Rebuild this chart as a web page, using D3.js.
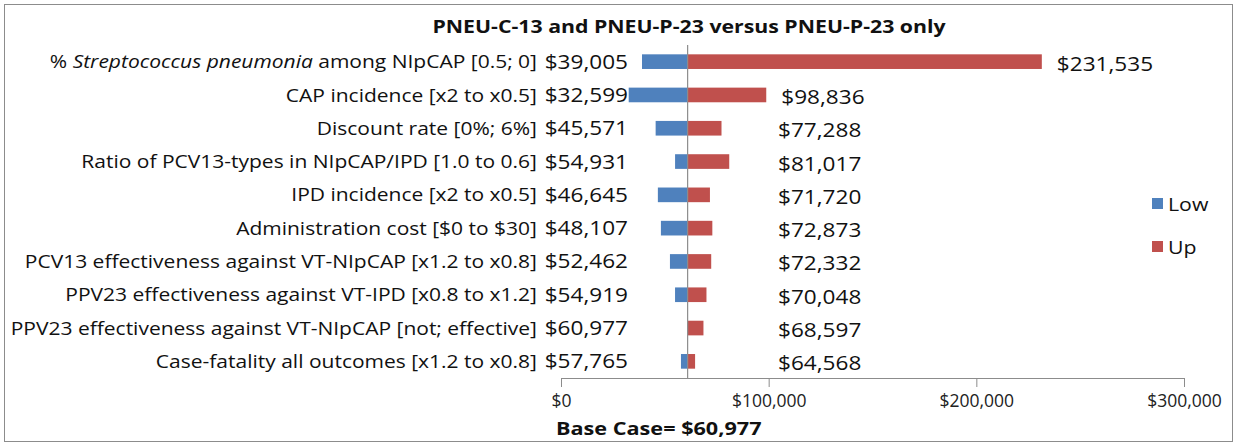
<!DOCTYPE html>
<html lang="en">
<head>
  <meta charset="UTF-8">
  <title>Tornado chart</title>
  <style>
    body { margin: 0; background: #fff; font-family: "Open Sans", sans-serif; }
  </style>
</head>
<body>
  <svg class="tornado"></svg>
  <script src="https://cdn.jsdelivr.net/npm/d3@7/dist/d3.min.js"></script>
  <script>
    var w = 1237, h = 446;

    var categories = [
      "% Streptococcus pneumonia among NIpCAP [0.5; 0]",
      "CAP incidence [x2 to x0.5]",
      "Discount rate [0%; 6%]",
      "Ratio of PCV13-types in NIpCAP/IPD [1.0 to 0.6]",
      "IPD incidence [x2 to x0.5]",
      "Administration cost [$0 to $30]",
      "PCV13 effectiveness against VT-NIpCAP [x1.2 to x0.8]",
      "PPV23 effectiveness against VT-IPD [x0.8 to x1.2]",
      "PPV23 effectiveness against VT-NIpCAP [not; effective]",
      "Case-fatality all outcomes [x1.2 to x0.8]"
    ];
    var lowValues = [39005, 32599, 45571, 54931, 46645, 48107, 52462, 54919, 60977, 57765];
    var upValues = [231535, 98836, 77288, 81017, 71720, 72873, 72332, 70048, 68597, 64568];
    var baseCase = 60977;
    var xTicks = [0, 100000, 200000, 300000];
    var italicPart = "Streptococcus pneumonia";

    var blue = "#4f81bd", red = "#c0504d";
    var fmt = d3.format("$,");
    var font = "'Open Sans', sans-serif";

    // the original text is a bit wider than Open Sans, so stretch it horizontally
    function stretch(sel, sx, xpos) {
      sel.attr("transform", "scale(" + sx + ",1)")
        .attr("x", typeof xpos === "function" ? (d, i) => xpos(d, i) / sx : xpos / sx);
    }

    var svg = d3.select(".tornado").attr("width", w).attr("height", h)
      .attr("font-family", font);

    // outer border
    svg.append("rect")
      .attr("x", 4.5).attr("y", 4.5)
      .attr("width", w - 9).attr("height", h - 9)
      .attr("fill", "none").attr("stroke", "#8c8c8c");

    var x = d3.scaleLinear().domain([0, 300000]).range([561, 1184]);
    var y = d3.scaleBand().domain(d3.range(categories.length)).range([45, 378]).paddingInner(0.56).paddingOuter(0.28);

    svg.append("text")
      .attr("y", 33)
      .attr("text-anchor", "middle")
      .attr("font-size", 18.5).attr("font-weight", "bold")
      .attr("fill", "#111")
      .text("PNEU-C-13 and PNEU-P-23 versus PNEU-P-23 only")
      .call(stretch, 1.15, 689);

    // low bars
    svg.selectAll(".low").data(lowValues).enter().append("rect")
      .attr("class", "low")
      .attr("x", d => x(Math.min(d, baseCase)))
      .attr("y", (d, i) => y(i))
      .attr("width", d => Math.abs(x(baseCase) - x(d)))
      .attr("height", y.bandwidth())
      .attr("fill", blue);

    // up bars
    svg.selectAll(".up").data(upValues).enter().append("rect")
      .attr("class", "up")
      .attr("x", x(baseCase))
      .attr("y", (d, i) => y(i))
      .attr("width", d => x(d) - x(baseCase))
      .attr("height", y.bandwidth())
      .attr("fill", red);

    // base case line
    svg.append("line")
      .attr("x1", x(baseCase)).attr("x2", x(baseCase))
      .attr("y1", 45).attr("y2", 378)
      .attr("stroke", "#8c8c8c").attr("stroke-width", 1.2);

    // category labels
    var cat = svg.selectAll(".cat").data(categories).enter().append("text")
      .attr("class", "cat")
      .attr("y", (d, i) => y(i) + y.bandwidth() / 2)
      .attr("dy", "0.35em")
      .attr("text-anchor", "end")
      .attr("font-size", 19)
      .attr("fill", "#111")
      .call(stretch, 1.105, 537);
    cat.each(function(d) {
      var t = d3.select(this);
      var k = d.indexOf(italicPart);
      if (k < 0) { t.text(d); return; }
      t.append("tspan").text(d.slice(0, k));
      t.append("tspan").attr("font-style", "italic").text(italicPart);
      t.append("tspan").text(d.slice(k + italicPart.length));
    });

    // value labels
    svg.selectAll(".lowlab").data(lowValues).enter().append("text")
      .attr("y", (d, i) => y(i) + y.bandwidth() / 2)
      .attr("dy", "0.35em")
      .attr("text-anchor", "end")
      .attr("font-size", 20).attr("fill", "#111")
      .text(d => fmt(d))
      .call(stretch, 1.13, 628);

    svg.selectAll(".uplab").data(upValues).enter().append("text")
      .attr("y", (d, i) => y(i) + y.bandwidth() / 2 + 2)
      .attr("dy", "0.35em")
      .attr("text-anchor", "start")
      .attr("font-size", 20).attr("fill", "#111")
      .text(d => fmt(d))
      .call(stretch, 1.13, d => Math.max(x(d) + 15, 778));

    // x axis
    var axis = svg.append("g")
      .attr("transform", "translate(0,378)")
      .call(d3.axisBottom(x).tickValues(xTicks).tickFormat(fmt).tickSizeInner(9).tickSizeOuter(0).tickPadding(8));
    axis.select(".domain").attr("stroke", "#8c8c8c");
    axis.selectAll(".tick line").attr("stroke", "#8c8c8c");
    axis.selectAll(".tick text").attr("font-size", 17.5).attr("font-family", font).attr("fill", "#222");

    svg.append("text")
      .attr("y", 435)
      .attr("font-size", 18.5).attr("font-weight", "bold").attr("fill", "#111")
      .text("Base Case= " + fmt(baseCase))
      .call(stretch, 1.17, 556);

    // legend
    var legend = [["Low", blue], ["Up", red]];
    var lg = svg.selectAll(".lg").data(legend).enter().append("g")
      .attr("transform", (d, i) => "translate(1152," + (198 + i * 43) + ")");
    lg.append("rect").attr("width", 11).attr("height", 11).attr("fill", d => d[1]);
    lg.append("text").attr("y", 6).attr("dy", "0.35em")
      .attr("font-size", 19).attr("fill", "#111").text(d => d[0])
      .call(stretch, 1.12, 16);
  </script>
</body>
</html>
